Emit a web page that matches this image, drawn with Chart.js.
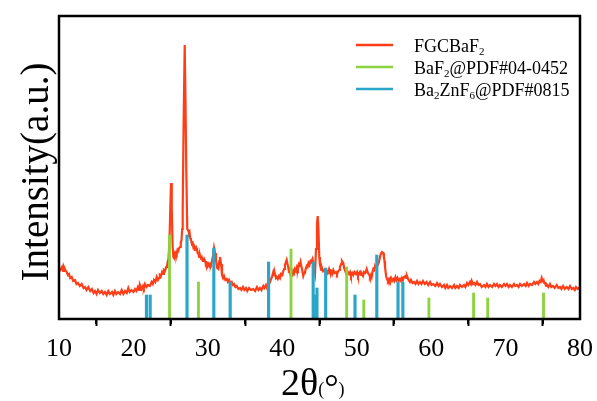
<!DOCTYPE html>
<html>
<head>
<meta charset="utf-8">
<script src="https://cdn.jsdelivr.net/npm/chart.js@4.4.1/dist/chart.umd.min.js"></script>
<style>
  html, body { margin: 0; padding: 0; background: #fff; }
  #wrap { width: 597px; height: 401px; }
</style>
</head>
<body>
<div id="wrap"><canvas id="xrd" width="597" height="401"></canvas></div>
<script>
// --- Data ---
// measured pattern: [2theta, intensity (a.u.)]
const fgcbaf2 = [
  [10.0, 51], [10.2, 49], [10.4, 52], [10.55, 48], [10.67, 52], [10.85, 49], [11.03, 47], [11.2, 44],
  [11.34, 45], [11.5, 41], [11.7, 42], [11.9, 38], [12.15, 39], [12.35, 35], [12.55, 36], [12.8, 33],
  [13.05, 35], [13.3, 31], [13.5, 32], [13.7, 29], [13.94, 32], [14.2, 28], [14.43, 30], [14.65, 26],
  [14.84, 28], [15.05, 25], [15.24, 29], [15.5, 26], [15.74, 28], [15.95, 25], [16.18, 27], [16.4, 24],
  [16.62, 28], [16.85, 25], [17.12, 27], [17.3, 24], [17.52, 28], [17.7, 25], [17.93, 27], [18.2, 25],
  [18.42, 29], [18.65, 25], [18.87, 28], [19.1, 26], [19.31, 31], [19.5, 27], [19.74, 29], [20.0, 27],
  [20.21, 30], [20.4, 28], [20.61, 32], [20.75, 29], [20.88, 34], [21.1, 30], [21.29, 33], [21.4, 31],
  [21.55, 35], [21.75, 32], [21.96, 34], [22.2, 33], [22.45, 37], [22.6, 35], [22.76, 39], [22.95, 37],
  [23.13, 42], [23.3, 39], [23.44, 41], [23.55, 44], [23.7, 43], [23.85, 47], [24.01, 45], [24.1, 49],
  [24.24, 48], [24.4, 52], [24.51, 53], [24.6, 57], [24.71, 60], [24.85, 80], [24.98, 118], [25.05, 136],
  [25.15, 110], [25.27, 72], [25.36, 62], [25.45, 61], [25.55, 65], [25.65, 63], [25.73, 66], [25.81, 65],
  [25.92, 69], [26.02, 68], [26.14, 71], [26.26, 72], [26.36, 76], [26.46, 79], [26.55, 90], [26.62, 110],
  [26.75, 200], [26.89, 274], [26.99, 220], [27.1, 150], [27.23, 90], [27.39, 88], [27.46, 86], [27.53, 87],
  [27.63, 81], [27.73, 79], [27.85, 75], [27.96, 76], [28.05, 72], [28.14, 73], [28.24, 69], [28.34, 69],
  [28.44, 71], [28.54, 69], [28.63, 66], [28.72, 66], [28.83, 62], [28.94, 64], [29.05, 61], [29.17, 62],
  [29.3, 58], [29.41, 58], [29.5, 60], [29.62, 58], [29.73, 55], [29.84, 56], [29.95, 53], [30.06, 55],
  [30.18, 53], [30.29, 55], [30.4, 54], [30.52, 57], [30.69, 63], [30.83, 71], [30.96, 66], [31.09, 59],
  [31.25, 51], [31.4, 50], [31.54, 58], [31.63, 62], [31.77, 55], [31.9, 44], [32.05, 41], [32.17, 43],
  [32.35, 39], [32.53, 40], [32.7, 37], [32.84, 39], [33.0, 36], [33.2, 37], [33.35, 34], [33.51, 35],
  [33.7, 32], [33.87, 33], [34.1, 30], [34.32, 31], [34.5, 29], [34.72, 32], [34.9, 29], [35.12, 31],
  [35.3, 28], [35.53, 31], [35.8, 29], [36.1, 30], [36.35, 28], [36.6, 32], [36.8, 29], [37.0, 31],
  [37.2, 29], [37.45, 33], [37.6, 31], [37.81, 34], [37.95, 31], [38.12, 33], [38.35, 37], [38.5, 40],
  [38.62, 42], [38.79, 47], [38.9, 44], [39.02, 45], [39.15, 41], [39.25, 42], [39.4, 40], [39.56, 43],
  [39.7, 41], [39.83, 45], [40.0, 44], [40.13, 48], [40.25, 50], [40.36, 54], [40.59, 59], [40.7, 55],
  [40.8, 52], [40.9, 47], [41.03, 46], [41.15, 43], [41.26, 45], [41.38, 44], [41.48, 48], [41.6, 46],
  [41.71, 50], [41.85, 48], [41.98, 52], [42.1, 50], [42.24, 55], [42.35, 54], [42.45, 57], [42.55, 53],
  [42.65, 50], [42.82, 43], [42.95, 46], [43.05, 47], [43.15, 50], [43.28, 53], [43.4, 52], [43.52, 56],
  [43.65, 54], [43.79, 58], [43.9, 57], [44.06, 60], [44.15, 56], [44.26, 52], [44.4, 46], [44.53, 70],
  [44.66, 95], [44.76, 103], [44.86, 90], [44.97, 62], [45.05, 55], [45.13, 52], [45.23, 49], [45.33, 51],
  [45.45, 48], [45.6, 49], [45.75, 46], [45.96, 48], [46.1, 46], [46.28, 50], [46.4, 47], [46.54, 48],
  [46.7, 45], [46.85, 49], [47.0, 46], [47.22, 47], [47.35, 45], [47.53, 48], [47.65, 49], [47.75, 52],
  [47.9, 55], [48.02, 58], [48.1, 57], [48.2, 56], [48.3, 51], [48.42, 49], [48.55, 46], [48.65, 44],
  [48.8, 47], [48.96, 45], [49.1, 47], [49.23, 43], [49.4, 46], [49.54, 44], [49.7, 47], [49.9, 45],
  [50.05, 47], [50.17, 43], [50.3, 45], [50.44, 47], [50.6, 44], [50.71, 45], [50.85, 43], [50.98, 47],
  [51.15, 46], [51.34, 50], [51.45, 47], [51.58, 45], [51.7, 44], [51.78, 42], [51.9, 44], [52.01, 42],
  [52.12, 47], [52.23, 50], [52.35, 49], [52.46, 53], [52.6, 51], [52.72, 53], [52.85, 54], [52.99, 57],
  [53.1, 61], [53.19, 64], [53.3, 66], [53.4, 67], [53.5, 67], [53.57, 66], [53.65, 62], [53.73, 58],
  [53.8, 52], [53.87, 48], [53.95, 43], [54.07, 40], [54.2, 38], [54.34, 40], [54.45, 38], [54.6, 41],
  [54.75, 38], [54.91, 40], [55.05, 38], [55.21, 42], [55.35, 39], [55.48, 41], [55.65, 38], [55.81, 40],
  [55.95, 38], [56.08, 41], [56.2, 39], [56.35, 42], [56.55, 43], [56.65, 41], [56.75, 43], [56.9, 40],
  [57.02, 40], [57.15, 37], [57.29, 39], [57.5, 36], [57.7, 37], [57.9, 35], [58.1, 38], [58.3, 35],
  [58.5, 37], [58.7, 35], [58.91, 38], [59.15, 35], [59.4, 37], [59.6, 34], [59.85, 37], [60.05, 34],
  [60.29, 35], [60.55, 33], [60.79, 36], [61.0, 33], [61.19, 35], [61.45, 32], [61.73, 34], [61.9, 31],
  [62.13, 34], [62.3, 31], [62.53, 33], [62.8, 31], [63.07, 34], [63.25, 31], [63.47, 33], [63.7, 31],
  [63.88, 34], [64.15, 32], [64.41, 34], [64.6, 32], [64.82, 36], [65.0, 34], [65.22, 37], [65.35, 35],
  [65.45, 38], [65.6, 35], [65.76, 36], [65.95, 34], [66.16, 37], [66.35, 34], [66.56, 35], [66.8, 32],
  [67.1, 34], [67.3, 32], [67.5, 35], [67.7, 32], [67.91, 34], [68.2, 32], [68.44, 35], [68.65, 33],
  [68.85, 35], [69.05, 32], [69.25, 34], [69.5, 32], [69.79, 35], [70.0, 33], [70.19, 35], [70.4, 32],
  [70.6, 34], [70.85, 32], [71.13, 35], [71.3, 33], [71.54, 34], [71.75, 32], [71.94, 35], [72.2, 33],
  [72.48, 35], [72.7, 33], [72.88, 36], [73.1, 33], [73.28, 35], [73.55, 34], [73.82, 37], [74.0, 35],
  [74.22, 37], [74.4, 35], [74.56, 38], [74.7, 37], [74.85, 41], [74.97, 38], [75.1, 39], [75.2, 36],
  [75.3, 36], [75.45, 33], [75.56, 34], [75.75, 32], [75.97, 35], [76.15, 32], [76.37, 33], [76.6, 31],
  [76.87, 34], [77.1, 31], [77.31, 32], [77.5, 30], [77.72, 33], [77.95, 30], [78.21, 32], [78.45, 30],
  [78.66, 33], [78.9, 30], [79.1, 31], [79.3, 29], [79.46, 32], [79.7, 30], [80.0, 32]
];

// BaF2 reference lines (PDF#04-0452)
const baf2Pos    = [24.85, 28.74, 41.17, 48.65, 50.95, 59.7, 65.7, 67.6, 75.1];
const baf2Height = [84, 37, 70, 52, 19, 21, 26, 21, 26];

// Ba2ZnF6 reference lines (PDF#0815)
const znPos    = [21.75, 22.25, 27.2, 30.8, 33.0, 38.16, 44.15, 44.4, 44.66, 45.83, 49.77, 52.7, 55.55, 56.2];
const znHeight = [24, 24, 84, 71, 37, 57, 57, 24, 31, 51, 24, 64, 37, 37];

const xTicks = [10, 20, 30, 40, 50, 60, 70, 80];
const xMinorTicks = [15, 25, 35, 45, 55, 65, 75];

const RED = '#FF3D17';
const GREEN = '#8BD43F';
const BLUE = '#2BA6C9';
const SERIF = '"Liberation Serif", "Times New Roman", serif';

// --- Frame, minor ticks, titles and legend ---
const decorPlugin = {
  id: 'decor',
  afterDraw(chart) {
    const { ctx, chartArea: a, scales } = chart;
    const x = scales.x;
    ctx.save();
    // frame
    ctx.strokeStyle = '#000';
    ctx.lineWidth = 2.5;
    ctx.strokeRect(a.left, a.top, a.right - a.left, a.bottom - a.top);
    // minor ticks
    ctx.lineWidth = 2;
    xMinorTicks.forEach(v => {
      const px = Math.round(x.getPixelForValue(v));
      ctx.beginPath();
      ctx.moveTo(px, a.bottom);
      ctx.lineTo(px, a.bottom + 5);
      ctx.stroke();
    });

    // x title: 2θ(°)
    ctx.fillStyle = '#000';
    ctx.textBaseline = 'alphabetic';
    ctx.textAlign = 'left';
    let tx = 281;
    const ty = 395;
    ctx.font = `38px ${SERIF}`;
    ctx.fillText('2θ', tx, ty);
    tx += ctx.measureText('2θ').width;
    ctx.font = `18px ${SERIF}`;
    ctx.fillText('(', tx, ty);
    tx += ctx.measureText('(').width;
    ctx.font = `36px ${SERIF}`;
    ctx.fillText('°', tx, ty + 4);
    tx += ctx.measureText('°').width;
    ctx.font = `18px ${SERIF}`;
    ctx.fillText(')', tx, ty);

    // y title
    ctx.save();
    ctx.translate(48, 172);
    ctx.rotate(-Math.PI / 2);
    ctx.textAlign = 'center';
    ctx.font = `39px ${SERIF}`;
    ctx.fillText('Intensity(a.u.)', 0, 0);
    ctx.restore();

    // legend with subscripts
    const rows = [
      { color: RED,   parts: [['FGCBaF', 0], ['2', 1]] },
      { color: GREEN, parts: [['BaF', 0], ['2', 1], ['@PDF#04-0452', 0]] },
      { color: BLUE,  parts: [['Ba', 0], ['2', 1], ['ZnF', 0], ['6', 1], ['@PDF#0815', 0]] }
    ];
    rows.forEach((row, i) => {
      const ly = 45 + i * 22;
      ctx.strokeStyle = row.color;
      ctx.lineWidth = 2.5;
      ctx.beginPath();
      ctx.moveTo(356, ly);
      ctx.lineTo(393, ly);
      ctx.stroke();
      let lx = 414;
      row.parts.forEach(([txt, sub]) => {
        ctx.font = sub ? `11px ${SERIF}` : `18px ${SERIF}`;
        ctx.fillText(txt, lx, ly + 6.5 + (sub ? 3.5 : 0));
        lx += ctx.measureText(txt).width;
      });
    });
    ctx.restore();
  }
};

const toPoints = (pos, h) => pos.map((p, i) => ({ x: p, y: h[i] }));

new Chart(document.getElementById('xrd'), {
  data: {
    datasets: [
      {
        type: 'bar',
        label: 'Ba2ZnF6@PDF#0815',
        data: toPoints(znPos, znHeight),
        backgroundColor: BLUE,
        barThickness: 2.5,
        grouped: false,
        order: 0
      },
      {
        type: 'bar',
        label: 'BaF2@PDF#04-0452',
        data: toPoints(baf2Pos, baf2Height),
        backgroundColor: GREEN,
        barThickness: 2.2,
        grouped: false,
        order: 1
      },
      {
        type: 'line',
        label: 'FGCBaF2',
        data: fgcbaf2.map(([t, v]) => ({ x: t, y: v })),
        borderColor: RED,
        borderWidth: 2.2,
        pointRadius: 0,
        tension: 0,
        fill: false,
        order: 2
      }
    ]
  },
  options: {
    responsive: false,
    devicePixelRatio: 1,
    animation: false,
    layout: { padding: { left: 0, right: 17, top: 16, bottom: 0 } },
    plugins: {
      legend: { display: false },
      tooltip: { enabled: false }
    },
    scales: {
      x: {
        type: 'linear',
        min: 10,
        max: 80,
        offset: false,
        afterFit: s => { s.height = 82; s.paddingLeft = 0; s.paddingRight = 0; },
        afterBuildTicks: s => { s.ticks = xTicks.map(v => ({ value: v })); },
        border: { display: false },
        grid: {
          drawOnChartArea: false,
          drawTicks: true,
          tickLength: 7,
          tickWidth: 2,
          tickColor: '#000'
        },
        ticks: {
          color: '#000',
          padding: 8,
          maxRotation: 0,
          font: { family: SERIF, size: 26 }
        }
      },
      y: {
        min: 0,
        max: 303,
        afterFit: s => { s.width = 59; },
        border: { display: false },
        grid: { display: false },
        ticks: { display: false }
      }
    }
  },
  plugins: [decorPlugin]
});
</script>
</body>
</html>
